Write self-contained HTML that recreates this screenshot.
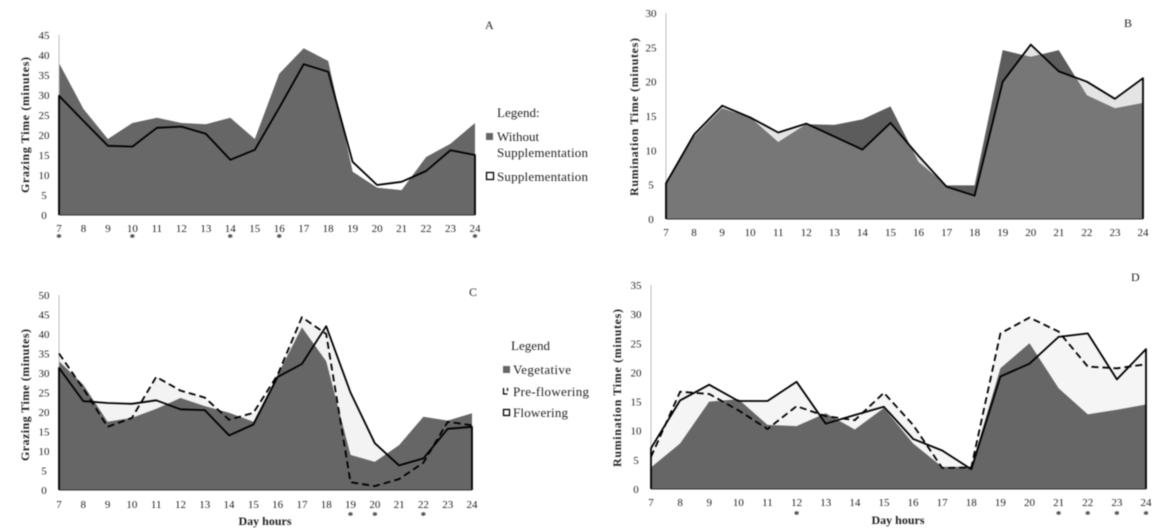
<!DOCTYPE html>
<html>
<head>
<meta charset="utf-8">
<title>Grazing and rumination time charts</title>
<style>
html,body{margin:0;padding:0;background:#fff;}
body{width:1157px;height:532px;overflow:hidden;}
svg{display:block;filter:blur(0.4px);}
text{font-family:"Liberation Serif",serif;fill:#222;}
.tick{font-size:11px;text-anchor:middle;}
.title{font-size:12px;font-weight:bold;text-anchor:middle;}
.leg{font-size:13px;}
.letter{font-size:12px;}
</style>
</head>
<body>
<svg id="chart" width="1157" height="532" viewBox="0 0 1157 532" xmlns="http://www.w3.org/2000/svg">
  <g id="panels"></g>

  <text class="letter" x="485" y="29">A</text>
  <text class="letter" x="1124" y="27">B</text>
  <text class="letter" x="469" y="296">C</text>
  <text class="letter" x="1131" y="281">D</text>

  <text class="title" transform="translate(29,125) rotate(-90)" textLength="136">Grazing  Time  (minutes)</text>
  <text class="title" transform="translate(638,117) rotate(-90)" textLength="158">Rumination  Time  (minutes)</text>
  <text class="title" transform="translate(29,395) rotate(-90)" textLength="132">Grazing  Time  (minutes)</text>
  <text class="title" transform="translate(621,388) rotate(-90)" textLength="158">Rumination  Time  (minutes)</text>

  <text class="title" x="265" y="525">Day hours</text>
  <text class="title" x="898" y="524">Day hours</text>

  <g>
    <text class="leg" x="497" y="117">Legend:</text>
    <rect x="486" y="133" width="7" height="7" fill="#666"></rect>
    <text class="leg" x="497" y="141">Without</text>
    <text class="leg" x="497" y="157" textLength="91">Supplementation</text>
    <rect x="486.5" y="172.5" width="7" height="7" fill="#fff" stroke="#000" stroke-width="1.3"></rect>
    <text class="leg" x="497" y="181" textLength="91">Supplementation</text>
  </g>
  <g>
    <text class="leg" x="511" y="350">Legend</text>
    <rect x="503" y="366" width="7" height="7" fill="#666"></rect>
    <text class="leg" x="513" y="374" textLength="58">Vegetative</text>
    <path d="M503.5 388v6h4M507.5 388v3" fill="none" stroke="#000" stroke-width="1.3"></path>
    <text class="leg" x="513" y="396" textLength="76">Pre-flowering</text>
    <rect x="503.5" y="409.5" width="6" height="6" fill="#fff" stroke="#000" stroke-width="1.3"></rect>
    <text class="leg" x="513" y="417" textLength="55">Flowering</text>
  </g>
</svg>
<script>
const hours = [7,8,9,10,11,12,13,14,15,16,17,18,19,20,21,22,23,24];

const aWithout = [38,26.5,19,23,24.3,23,22.7,24.3,19,35.3,41.7,38.5,10.8,6.8,6.2,14.5,17.8,23];
const aSupp = [29.8,23.5,17.3,17.1,21.8,22.1,20.3,13.8,16.3,26.8,37.7,35.8,13.3,7.5,8.3,11,16.2,15];
const aTicks = [0,5,10,15,20,25,30,35,40,45];
const aStars = [7,10,14,16,24];

const bWithout = [5,12,16.1,14.8,11.2,13.8,13.7,14.5,16.4,8.3,4.9,4.9,24.6,23.6,24.6,18,16.1,16.9];
const bSupp = [5.2,12.3,16.5,14.8,12.6,13.9,12,10.1,14,9.2,4.7,3.4,20,25.4,21.5,20,17.5,20.5];
const bTicks = [0,5,10,15,20,25,30];
const bStars = [];

const cVegetative = [33,27,17.5,18.5,20.8,23.6,21.5,19.8,17.5,29.5,41.7,33,9,7.2,11.5,18.8,17.8,19.7];
const cPreFlowering = [35,26,16.2,18.5,29,25.5,23.7,18,19.8,29.5,44.3,40,2,1,2.8,7,17.5,16.6];
const cFlowering = [31.3,22.8,22.3,22.1,23,20.7,20.5,14,16.8,29,32.3,42,25,12,6.3,8.1,15.7,16.2];
const cTicks = [0,5,10,15,20,25,30,35,40,45,50];
const cStars = [19,20,22];

const dVegetative = [3.7,7.8,15,15.4,11,10.8,13,10.2,13.9,7.8,3.8,3.8,20.7,25,17.3,12.8,13.6,14.5];
const dPreFlowering = [5.5,16.7,16.3,13.5,10.3,14.2,12.5,11.8,16.5,11,3.6,3.7,26.7,29.4,27,21,20.7,21.4];
const dFlowering = [7,15.2,17.9,15.1,15.1,18.4,11.2,12.7,14.1,8.6,6.6,3.4,19.3,21.5,26.1,26.7,18.8,24];
const dTicks = [0,5,10,15,20,25,30,35];
const dStars = [12,21,22,23,24];

const NS = 'http://www.w3.org/2000/svg';
const root = document.getElementById('panels');
let clipCount = 0;

function mk(parent, tag, attrs){
  const el = document.createElementNS(NS, tag);
  for (const k in attrs) el.setAttribute(k, attrs[k]);
  parent.appendChild(el);
  return el;
}

function drawPanel(id, box, yMax, ticks, stars, starY, areas, overlap, lines){
  const xOf = h => box.x0 + (h - hours[0]) / (hours[hours.length-1] - hours[0]) * (box.x1 - box.x0);
  const yOf = v => box.y0 - v / yMax * (box.y0 - box.yTop);
  const linePts = vals => vals.map((v,i) => xOf(hours[i]).toFixed(1) + ' ' + yOf(v).toFixed(1)).join(' L');
  const closed = vals => 'M' + xOf(hours[0]) + ' ' + box.y0 + ' L' + linePts(vals) + ' L' + xOf(hours[hours.length-1]) + ' ' + box.y0 + ' Z';

  const g = mk(root, 'g', {});
  
  

  areas.forEach(a => {
    const p = mk(g, 'path', {d: closed(a.values), fill: a.fill});
    
    
  });

  if (overlap) {
    clipCount++;
    const clipId = 'clip' + clipCount;
    const defs = mk(g, 'defs', {});
    const cp = mk(defs, 'clipPath', {id: clipId});
    mk(cp, 'path', {d: closed(overlap.a)});
    const p = mk(g, 'path', {d: closed(overlap.b), fill: overlap.fill, 'clip-path': 'url(#' + clipId + ')'});
    
    
  }

  const axis = mk(g, 'line', {x1: box.x0, x2: box.x0, y1: yOf(yMax), y2: box.y0, stroke: '#bbb', 'stroke-width': 1});
  
  

  lines.forEach(l => {
    const d = l.closed
      ? 'M' + xOf(hours[0]) + ' ' + box.y0 + ' L' + linePts(l.values) + ' L' + xOf(hours[hours.length-1]) + ' ' + box.y0
      : 'M' + linePts(l.values);
    const p = mk(g, 'path', {d: d, fill: 'none', stroke: '#000', 'stroke-width': 1.8, 'stroke-linejoin': 'round'});
    if (l.dash) p.setAttribute('stroke-dasharray', l.dash);
    
    
  });

  const base = mk(g, 'line', {x1: box.x0, x2: box.x1, y1: box.y0, y2: box.y0, stroke: '#333', 'stroke-width': 1});
  
  

  ticks.forEach(t => {
    const el = mk(g, 'text', {class: 'tick', x: box.x0 - 15, y: yOf(t) + 4});
    el.textContent = t;
    
    
  });
  hours.forEach(h => {
    const el = mk(g, 'text', {class: 'tick', x: xOf(h), y: box.y0 + box.xLabelGap});
    el.textContent = h;
    
    
  });
  stars.forEach(h => {
    const el = mk(g, 'text', {class: 'tick', x: xOf(h), y: starY, 'font-weight': 'bold'});
    el.textContent = '*';
    
    
  });
}

drawPanel('a', {x0:59,x1:475,y0:215,yTop:35,xLabelGap:17}, 45, aTicks, aStars, 241,
  [{name:'supplementation', values:aSupp, fill:'#fff'}, {name:'without-supplementation', values:aWithout, fill:'#666'}],
  {a:aSupp, b:aWithout, fill:'#686868'},
  [{name:'supplementation', values:aSupp, closed:true}]);

drawPanel('b', {x0:666,x1:1143,y0:219,yTop:13,xLabelGap:17}, 30, bTicks, bStars, 0,
  [{name:'supplementation', values:bSupp, fill:'#e4e4e4'}, {name:'without-supplementation', values:bWithout, fill:'#5c5c5c'}],
  {a:bSupp, b:bWithout, fill:'#777'},
  [{name:'supplementation', values:bSupp, closed:true}]);

drawPanel('c', {x0:59,x1:472,y0:490,yTop:295,xLabelGap:18}, 50, cTicks, cStars, 519,
  [{name:'flowering', values:cFlowering, fill:'#f3f3f3'}, {name:'pre-flowering', values:cPreFlowering, fill:'#f3f3f3'}, {name:'vegetative', values:cVegetative, fill:'#666'}],
  null,
  [{name:'pre-flowering', values:cPreFlowering, dash:'7 4'}, {name:'flowering', values:cFlowering, closed:true}]);

drawPanel('d', {x0:651,x1:1146,y0:489,yTop:285,xLabelGap:17}, 35, dTicks, dStars, 518,
  [{name:'flowering', values:dFlowering, fill:'#f5f5f5'}, {name:'pre-flowering', values:dPreFlowering, fill:'#f5f5f5'}, {name:'vegetative', values:dVegetative, fill:'#666'}],
  null,
  [{name:'pre-flowering', values:dPreFlowering, dash:'7 4'}, {name:'flowering', values:dFlowering, closed:true}]);
</script>
</body>
</html>
